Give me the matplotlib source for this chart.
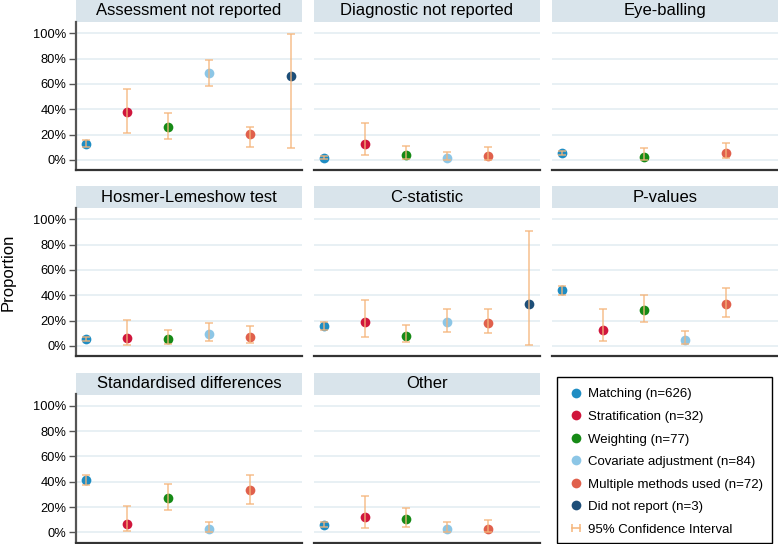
import matplotlib
matplotlib.use("Agg")
import matplotlib.pyplot as plt
from matplotlib.lines import Line2D
from matplotlib.patches import Rectangle
from matplotlib.legend_handler import HandlerLine2D
import numpy as np

plt.rcParams['font.family'] = ['Liberation Sans', 'DejaVu Sans']

nan = np.nan

methods = ["Matching (n=626)", "Stratification (n=32)", "Weighting (n=77)",
           "Covariate adjustment (n=84)", "Multiple methods used (n=72)",
           "Did not report (n=3)"]
colors = ["#1f8dc3", "#d0163c", "#168a16", "#8cc6e6", "#e0604c", "#1d4e78"]
ci_color = "#f5b57a"

panels = ["Assessment not reported", "Diagnostic not reported", "Eye-balling",
          "Hosmer-Lemeshow test", "C-statistic", "P-values",
          "Standardised differences", "Other"]

# proportion (%) for each method in each panel
prop = [
    [12.9, 37.5, 26.0, 69.0, 20.8, 66.7],
    [1.8, 12.5, 3.9, 1.2, 2.8, nan],
    [5.3, nan, 2.6, nan, 5.6, nan],
    [5.1, 6.3, 5.2, 9.5, 6.9, nan],
    [15.6, 18.8, 7.8, 19.0, 18.1, 33.3],
    [43.8, 12.5, 28.6, 4.8, 33.3, nan],
    [41.4, 6.3, 27.3, 2.4, 33.3, nan],
    [6.1, 12.5, 10.4, 2.4, 2.8, nan],
]
ci_low = [
    [10.3, 21.1, 16.6, 58.4, 10.5, 9.4],
    [1.0, 3.5, 0.8, 0.0, 0.3, nan],
    [3.6, nan, 0.3, nan, 1.5, nan],
    [3.5, 0.8, 1.4, 4.2, 2.3, nan],
    [12.9, 7.2, 2.9, 11.3, 10.0, 0.8],
    [39.9, 3.5, 18.8, 1.3, 22.7, nan],
    [37.5, 0.8, 17.7, 0.3, 22.7, nan],
    [4.3, 3.5, 4.6, 0.3, 0.3, nan],
]
ci_high = [
    [15.8, 56.4, 37.3, 78.9, 26.3, 99.2],
    [3.0, 29.0, 11.0, 6.5, 10.0, nan],
    [7.2, nan, 9.1, nan, 13.6, nan],
    [7.1, 20.8, 12.8, 17.9, 15.5, nan],
    [18.6, 36.4, 16.2, 29.2, 29.2, 90.6],
    [47.7, 29.0, 40.1, 11.7, 45.5, nan],
    [45.4, 20.8, 38.5, 8.3, 45.5, nan],
    [8.1, 29.0, 19.4, 8.3, 9.7, nan],
]

W, H = 778, 544
fig = plt.figure(figsize=(W / 100, H / 100), dpi=100)

col_left = [76, 314, 552]
row_top = [0, 186, 372.5]
pw, strip_h, ph = 226, 22, 148
xpos = np.arange(1, 7)

for i, name in enumerate(panels):
    r, c = divmod(i, 3)
    x0, top = col_left[c], row_top[r]
    # strip with panel title
    sax = fig.add_axes([x0 / W, 1 - (top + strip_h) / H, pw / W, strip_h / H])
    sax.set_facecolor("#d9e4eb")
    sax.set_xticks([]); sax.set_yticks([])
    for s in sax.spines.values():
        s.set_visible(False)
    sax.text(0.5, 0.5, name, ha="center", va="center", fontsize=12,
             transform=sax.transAxes)

    ax = fig.add_axes([x0 / W, 1 - (top + strip_h + ph) / H, pw / W, ph / H])
    ax.set_xlim(0.75, 6.27)
    ax.set_ylim(-8, 109)
    ax.set_yticks(range(0, 101, 20))
    ax.grid(axis="y", color="#e4edf2", linewidth=1.2)
    ax.set_axisbelow(True)
    ax.set_xticks([])
    for s in ["top", "right"]:
        ax.spines[s].set_visible(False)
    ax.spines["bottom"].set_color("#333333")
    ax.spines["bottom"].set_linewidth(1.6)
    if c == 0:
        ax.spines["left"].set_color("#555555")
        ax.spines["left"].set_linewidth(1.6)
        ax.set_yticklabels([f"{v}%" for v in range(0, 101, 20)], fontsize=9.3)
        ax.tick_params(axis="y", length=5, width=1, color="#555555", pad=2)
    else:
        ax.spines["left"].set_visible(False)
        ax.tick_params(axis="y", length=0, labelleft=False)

    p = np.array(prop[i]); lo = np.array(ci_low[i]); hi = np.array(ci_high[i])
    for k in range(6):
        if np.isnan(p[k]):
            continue
        ax.plot(xpos[k], p[k], "o", color=colors[k], markersize=7,
                markeredgewidth=0, zorder=3)
        ax.errorbar(xpos[k], p[k], yerr=[[p[k] - lo[k]], [hi[k] - p[k]]],
                    fmt="none", ecolor=ci_color, elinewidth=1.1, capsize=3.2,
                    capthick=1.1, alpha=0.85, zorder=4)

fig.text(8 / W, 0.5, "Proportion", rotation=90, ha="center", va="center",
         fontsize=12)

# legend frame drawn separately so its box matches the grid cell
fig.patches.append(Rectangle((557 / W, 1 - 543 / H), 215 / W, 166 / H,
                             transform=fig.transFigure, fill=False,
                             edgecolor="black", linewidth=1.0))

handles = [Line2D([], [], marker="o", linestyle="none", color=col,
                  markersize=7, markeredgewidth=0) for col in colors]
ci_handle = Line2D([], [], color=ci_color, linewidth=1.1, marker="|",
                   markersize=6, markeredgewidth=1.1)
handles.append(ci_handle)
labels = methods + ["95% Confidence Interval"]
leg = fig.legend(handles, labels, loc="upper left",
                 bbox_to_anchor=(557 / W, 1 - 377 / H - 0.01, (772 - 557) / W, 0.01),
                 mode="expand", borderaxespad=0, fontsize=9.5,
                 frameon=False,
                 handlelength=1.2, handletextpad=0.3, borderpad=0.85,
                 labelspacing=0.78,
                 handler_map={ci_handle: HandlerLine2D(numpoints=2)})

fig.savefig("out.png", dpi=100)
